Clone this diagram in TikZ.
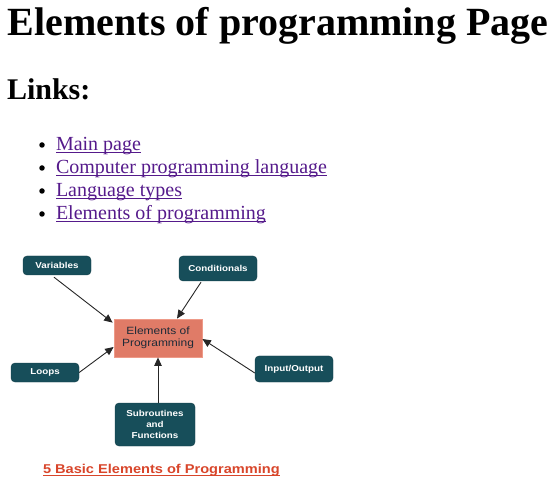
\documentclass[tikz,border=0pt]{standalone}
\usepackage{fontspec}
\setmainfont{Liberation Serif}
\newfontfamily\diagfont[FakeStretch=1.14]{Liberation Sans}
\usetikzlibrary{arrows.meta}
\definecolor{teal}{HTML}{174E5A}
\definecolor{salmon}{HTML}{E07B67}
\definecolor{salmonedge}{HTML}{EE9A88}
\definecolor{visited}{HTML}{551A8B}
\definecolor{captred}{HTML}{D8452A}
\definecolor{elemtext}{HTML}{1E2B38}
\tikzset{
  pagetext/.style={anchor=base west, inner sep=0pt, outer sep=0pt},
  linktext/.style={pagetext, text=visited, font=\fontsize{20}{22}\selectfont},
  linkline/.style={draw=visited, line width=1pt},
  bulletdot/.style={fill=black, circle, inner sep=0pt, minimum size=5.5pt},
  tealbox/.style={fill=teal, draw=teal!80!black, rounded corners=4pt, text=white,
    font=\diagfont\bfseries\fontsize{8.6}{9.6}\selectfont, align=center, inner sep=0pt},
  arr/.style={draw=black!85, line width=0.9pt, -{Triangle[length=8.5pt,width=7.5pt]}},
}
\begin{document}
\begin{tikzpicture}[x=1pt,y=-1pt]
\useasboundingbox (0,0) rectangle (557,494);
% page texts
\node[pagetext, font=\bfseries\fontsize{40}{42}\selectfont] (title) at (8,36) {Elements of programming Page};
\node[pagetext, font=\bfseries\fontsize{30}{32}\selectfont] (links) at (7,100) {Links:};
\node[linktext] (l1) at (56,151) {Main page};
\node[linktext] (l2) at (56,174) {Computer programming language};
\node[linktext] (l3) at (56,197) {Language types};
\node[linktext] (l4) at (56,220) {Elements of programming};
\foreach \n in {l1,l2,l3,l4}{
  \draw[linkline] ([yshift=-2pt]\n.base west) -- ([yshift=-2pt]\n.base east);
  \node[bulletdot] at ([xshift=-14pt,yshift=6pt]\n.base west) {};
}
% diagram
\node[fill=salmon, draw=salmonedge, line width=0.8pt, minimum width=88pt, minimum height=38pt,
  align=center, inner sep=0pt, text=elemtext, font=\diagfont\fontsize{10.5}{12.5}\selectfont]
  (elem) at (158,338) {Elements of\\Programming};
\node[tealbox, minimum width=68pt, minimum height=19pt] (var) at (57,265.5) {Variables};
\node[tealbox, minimum width=78pt, minimum height=25pt] (cond) at (218,268.5) {Conditionals};
\node[tealbox, minimum width=68pt, minimum height=19pt] (loops) at (45,372.5) {Loops};
\node[tealbox, minimum width=78pt, minimum height=26pt] (io) at (294,369) {Input/Output};
\node[tealbox, minimum width=80pt, minimum height=43pt, font=\diagfont\bfseries\fontsize{8.6}{11}\selectfont]
  (sub) at (155,424.5) {Subroutines\\and\\Functions};
\draw[arr] ([xshift=-3pt,yshift=-2pt]var.south) -- ([xshift=-1pt,yshift=-4pt]elem.north west);
\draw[arr] ([xshift=-17pt,yshift=-1pt]cond.south) -- ([xshift=19pt]elem.north);
\draw[arr] (loops.east) -- ([yshift=-9pt]elem.west);
\draw[arr] ([yshift=-4pt]io.west) -- ([yshift=-1pt]elem.east);
\draw[arr] ([xshift=3pt]sub.north) -- (elem.south);
% caption
\node[pagetext, text=captred, font=\diagfont\bfseries\fontsize{12.8}{14}\selectfont] (cap) at (43,473) {5 Basic Elements of Programming};
\draw[draw=captred, line width=1.2pt] ([yshift=-2.5pt]cap.base west) -- ([yshift=-2.5pt]cap.base east);
\end{tikzpicture}
\end{document}
